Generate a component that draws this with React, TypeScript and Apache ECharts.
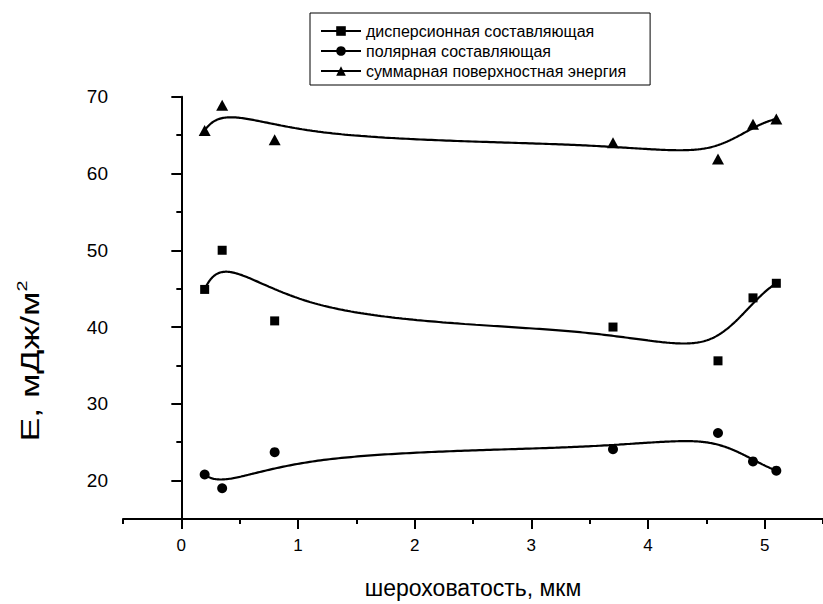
import React, { useEffect, useRef } from "react";
import * as echarts from "echarts";

const roughness = [0.2, 0.35, 0.8, 3.7, 4.6, 4.9, 5.1];
const dispersive = [44.9, 50.0, 40.8, 40.0, 35.6, 43.8, 45.7];
const polar = [20.8, 19.0, 23.7, 24.1, 26.2, 22.5, 21.3];
const total = [65.6, 68.9, 64.4, 64.0, 61.9, 66.4, 67.1];

const seriesNames = [
  "дисперсионная составляющая",
  "полярная составляющая",
  "суммарная поверхностная энергия",
];
const xAxisTitle = "шероховатость, мкм";
const yAxisTitle = "Е, мДж/м{sup|2}";
const xMajorTicks = [0, 1, 2, 3, 4, 5];
const xMinorTicks = [-0.5, 0.5, 1.5, 2.5, 3.5, 4.5, 5.5];
const yMajorTicks = [20, 30, 40, 50, 60, 70];
const yMinorTicks = [15, 25, 35, 45, 55, 65];

// clamped uniform cubic B-spline using the data points as control points
function bspline(xs: number[], ys: number[], samples = 300): number[][] {
  const n = xs.length;
  const p = 3;
  const m = n - p;
  const knots: number[] = [];
  for (let i = 0; i <= p; i++) knots.push(0);
  for (let i = 1; i < m; i++) knots.push(i);
  for (let i = 0; i <= p; i++) knots.push(m);
  const basis = (i: number, k: number, t: number): number => {
    if (k === 0) return knots[i] <= t && t < knots[i + 1] ? 1 : 0;
    let a = 0;
    let b = 0;
    const d1 = knots[i + k] - knots[i];
    const d2 = knots[i + k + 1] - knots[i + 1];
    if (d1 > 0) a = ((t - knots[i]) / d1) * basis(i, k - 1, t);
    if (d2 > 0) b = ((knots[i + k + 1] - t) / d2) * basis(i + 1, k - 1, t);
    return a + b;
  };
  const out: number[][] = [];
  for (let s = 0; s <= samples; s++) {
    let t = (s / samples) * m;
    if (s === samples) t = m - 1e-9;
    let x = 0;
    let y = 0;
    for (let i = 0; i < n; i++) {
      const b = basis(i, p, t);
      x += b * xs[i];
      y += b * ys[i];
    }
    out.push([x, y]);
  }
  return out;
}

const FONT = "Liberation Sans, Arial, sans-serif";

export default function App() {
  const ref = useRef<HTMLDivElement>(null);
  useEffect(() => {
    if (!ref.current) return;
    const chart = echarts.init(ref.current, null, { renderer: "svg" });
    const sets = [dispersive, polar, total];
    const symbols = ["rect", "circle", "triangle"];
    const sizes: any[] = [9, 10, [12, 11]];
    const series: any[] = [];
    sets.forEach((vals, i) => {
      series.push({
        name: seriesNames[i],
        type: "line",
        data: bspline(roughness, vals),
        showSymbol: false,
        symbol: symbols[i],
        symbolSize: sizes[i],
        lineStyle: { color: "#000", width: 2.2 },
        itemStyle: { color: "#000" },
        silent: true,
        z: 2,
      });
    });
    sets.forEach((vals, i) => {
      series.push({
        name: seriesNames[i],
        type: "scatter",
        data: roughness.map((x, j) => [x, vals[j]]),
        symbol: symbols[i],
        symbolSize: sizes[i],
        itemStyle: { color: "#000", opacity: 1 },
        z: 3,
      });
    });
    chart.setOption({
      animation: false,
      backgroundColor: "#fff",
      textStyle: { fontFamily: FONT },
      grid: { left: 123, top: 96.7, bottom: 79.7, right: -9, containLabel: false },
      legend: {
        data: seriesNames,
        orient: "vertical",
        left: 310,
        top: 13,
        padding: [10, 24, 6, 10],
        itemWidth: 40,
        itemHeight: 12,
        itemGap: 4,
        borderColor: "#000",
        borderWidth: 1,
        borderRadius: 0,
        textStyle: { fontSize: 16, color: "#000", fontFamily: FONT, lineHeight: 16 },
      },
      graphic: [
        {
          type: "text",
          x: 30,
          y: 361,
          rotation: Math.PI / 2,
          scaleX: 1.42,
          silent: true,
          style: {
            text: yAxisTitle,
            fontSize: 25,
            fontFamily: FONT,
            fill: "#000",
            align: "center",
            verticalAlign: "middle",
            lineHeight: 30,
            rich: {
              sup: { fontSize: 14, fontFamily: FONT, fill: "#000", verticalAlign: "top", lineHeight: 14 },
            },
          },
        },
      ],
      xAxis: [
        {
          type: "value",
          min: -0.5,
          max: 5.5,
          position: "bottom",
          name: xAxisTitle,
          nameLocation: "middle",
          nameGap: 57,
          nameTextStyle: { fontSize: 23, color: "#000", fontFamily: FONT },
          axisLine: { show: true, lineStyle: { color: "#000", width: 2 } },
          axisTick: { show: true, length: 10, customValues: xMajorTicks, lineStyle: { color: "#000", width: 2 } },
          axisLabel: { show: true, customValues: xMajorTicks, margin: 18, fontSize: 17, color: "#000", fontFamily: FONT },
          splitLine: { show: false },
        },
        {
          type: "value",
          min: -0.5,
          max: 5.5,
          position: "bottom",
          axisLine: { show: false },
          axisTick: { show: true, length: 5, customValues: xMinorTicks, lineStyle: { color: "#000", width: 2 } },
          axisLabel: { show: false },
          splitLine: { show: false },
        },
      ],
      yAxis: [
        {
          type: "value",
          min: 15,
          max: 70,
          position: "left",
          axisLine: { show: true, lineStyle: { color: "#000", width: 2 } },
          axisTick: { show: true, length: 10, customValues: yMajorTicks, lineStyle: { color: "#000", width: 2 } },
          axisLabel: { show: true, customValues: yMajorTicks, margin: 15, fontSize: 19, color: "#000", fontFamily: FONT },
          splitLine: { show: false },
        },
        {
          type: "value",
          min: 15,
          max: 70,
          position: "left",
          axisLine: { show: false },
          axisTick: { show: true, length: 5, customValues: yMinorTicks, lineStyle: { color: "#000", width: 2 } },
          axisLabel: { show: false },
          splitLine: { show: false },
        },
      ],
      series,
    });
    return () => chart.dispose();
  }, []);
  return (
    <div
      ref={ref}
      style={{ position: "fixed", left: 0, top: 0, width: 823, height: 604, background: "#fff" }}
    />
  );
}
